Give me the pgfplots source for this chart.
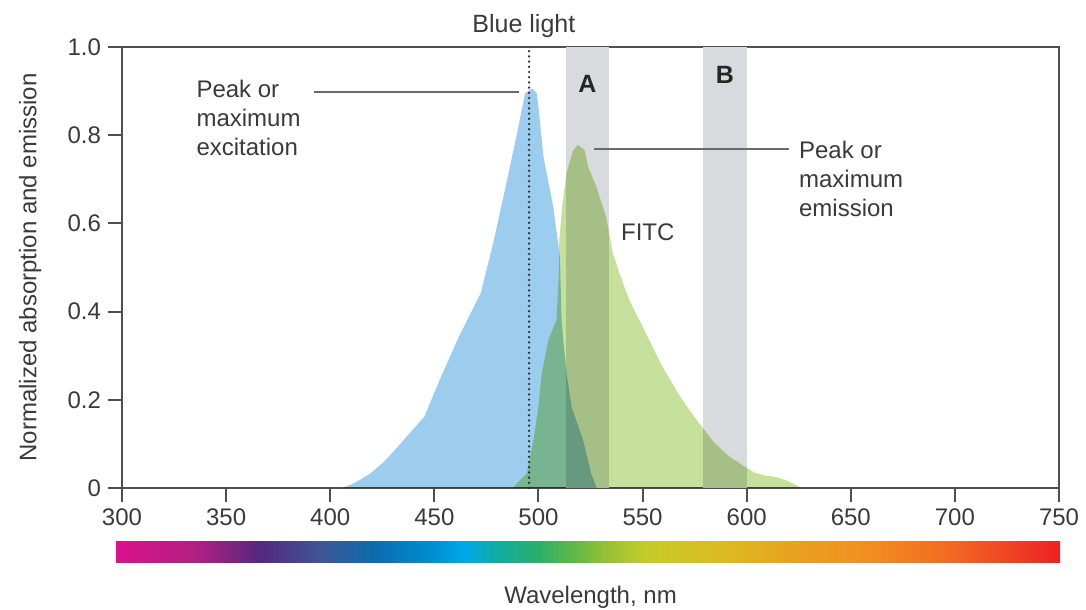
\documentclass[border=0pt]{standalone}
\usepackage{fontspec}
\setmainfont{Liberation Sans}
\usepackage{pgfplots}
\pgfplotsset{compat=1.18}

\definecolor{txt}{HTML}{3A3A3A}
\definecolor{axgray}{HTML}{505050}
\definecolor{exblue}{HTML}{9DCDEE}
\definecolor{emgreen}{HTML}{C4E09B}
\definecolor{band}{HTML}{D9DADD}
\definecolor{lead}{HTML}{6A6A6A}
\definecolor{dotc}{HTML}{303030}

% visible spectrum, 297..750 nm mapped onto 25..75bp
\pgfdeclarehorizontalshading{spectrum}{100bp}{%
  rgb(0bp)=(0.839,0.075,0.541);
  rgb(25.3bp)=(0.839,0.075,0.541);
  rgb(29.2bp)=(0.702,0.122,0.510);
  rgb(32.6bp)=(0.333,0.157,0.490);
  rgb(35.8bp)=(0.247,0.333,0.588);
  rgb(38.6bp)=(0.051,0.420,0.682);
  rgb(41.3bp)=(0,0.537,0.800);
  rgb(43.5bp)=(0,0.659,0.902);
  rgb(45.3bp)=(0.071,0.675,0.616);
  rgb(47.4bp)=(0.169,0.690,0.416);
  rgb(49.2bp)=(0.369,0.722,0.275);
  rgb(50.6bp)=(0.549,0.749,0.227);
  rgb(53.1bp)=(0.776,0.800,0.165);
  rgb(57.6bp)=(0.867,0.722,0.133);
  rgb(61.2bp)=(0.910,0.627,0.125);
  rgb(64.6bp)=(0.949,0.565,0.129);
  rgb(69.0bp)=(0.949,0.420,0.133);
  rgb(72.2bp)=(0.937,0.271,0.141);
  rgb(75bp)=(0.933,0.125,0.141);
  rgb(100bp)=(0.933,0.125,0.141)}

\newcommand{\lbl}{\fontsize{12}{14.5}\selectfont}

\begin{document}
\begin{tikzpicture}
\begin{axis}[
    scale only axis,
    width=468.5pt,
    height=220.5pt,
    xmin=300, xmax=750,
    ymin=0, ymax=1,
    xtick={300,350,...,750},
    ytick={0,0.2,0.4,0.6,0.8,1},
    yticklabels={0,0.2,0.4,0.6,0.8,1.0},
    tick align=outside,
    tick pos=left,
    major tick length=7pt,
    axis line style={draw=axgray, line width=1pt},
    tick style={draw=axgray, line width=1pt},
    tick label style={font=\lbl, text=txt},
    /pgf/number format/assume math mode=true,
    clip=false,
    xlabel={Wavelength, nm},
    ylabel={Normalized absorption and emission},
    xlabel style={at={(axis description cs:0.5,-0.261)}, anchor=base, font=\lbl, text=txt},
    ylabel style={at={(axis description cs:-0.098,0.5)}, anchor=center, font=\lbl, text=txt},
]

% filter bands A and B
\addplot[draw=none, fill=band] coordinates {(513,1) (534,1)} \closedcycle;
\addplot[draw=none, fill=band] coordinates {(579,1) (600,1)} \closedcycle;

% excitation (absorption)
\addplot[draw=none, fill=exblue, blend mode=multiply] coordinates {
  (406,0) (412,0.012) (419,0.032) (426,0.06) (432.5,0.094) (445.2,0.162)
  (453,0.25) (461.1,0.336) (472.2,0.441) (478.6,0.562) (484.9,0.698)
  (489.7,0.804) (493.6,0.895) (496.8,0.906) (499.2,0.895) (500,0.865)
  (502.4,0.751) (507.1,0.638) (510.3,0.524) (511.1,0.381) (511.9,0.336)
  (513.5,0.26) (515.9,0.184) (521.4,0.109) (525.3,0.033) (527.4,0.007) (528,0)
} \closedcycle;

% emission
\addplot[draw=none, fill=emgreen, blend mode=multiply] coordinates {
  (488,0) (488.9,0.007) (494.4,0.033) (497.6,0.109) (500,0.184) (501.6,0.26)
  (504.8,0.336) (508.7,0.381) (509.8,0.487) (510,0.562) (511.4,0.638)
  (513.5,0.714) (516.7,0.766) (519,0.778) (522.2,0.766) (523.8,0.729)
  (527.8,0.683) (532.5,0.615) (535.7,0.532) (538.9,0.487) (543.6,0.426)
  (551.6,0.351) (559.5,0.275) (569,0.20) (575.4,0.158) (584.5,0.102)
  (592,0.07) (599.2,0.048) (604,0.034) (609,0.028) (613.8,0.025)
  (618.7,0.018) (623.6,0.007) (626,0)
} \closedcycle;

% blue light line
\addplot[draw=dotc, line width=1.3pt, line cap=round, dash pattern=on 0pt off 2.6pt]
  coordinates {(495.5,0) (495.5,1)};

% leader lines
\addplot[lead, line width=1pt] coordinates {(392,0.898) (490.6,0.898)};
\addplot[lead, line width=1pt] coordinates {(526.8,0.769) (620.1,0.769)};

% annotations
\node[anchor=base, font=\fontsize{12.5}{14}\selectfont, text=txt, inner sep=0pt]
  at (axis cs:493,1.032) {Blue light};
\node[anchor=north west, align=left, font=\lbl, text=txt, inner sep=0pt]
  at (axis cs:335.6,0.925) {Peak or\\maximum\\excitation};
\node[anchor=north west, align=left, font=\lbl, text=txt, inner sep=0pt]
  at (axis cs:625,0.7875) {Peak or\\maximum\\emission};
\node[anchor=base west, font=\lbl, text=txt, inner sep=0pt]
  at (axis cs:539.5,0.562) {FITC};
\node[anchor=base, font=\fontsize{12.5}{14}\selectfont\bfseries, text=black!85, inner sep=0pt]
  at (axis cs:523.5,0.896) {A};
\node[anchor=base, font=\fontsize{12.5}{14}\selectfont\bfseries, text=black!85, inner sep=0pt]
  at (axis cs:589.5,0.918) {B};

% spectrum bar
\shade[shading=spectrum] (axis cs:297,-0.1224) rectangle (axis cs:750.5,-0.170);

\coordinate (bbsw) at (rel axis cs:-0.1302,-0.2766);
\coordinate (bbne) at (rel axis cs:1.0288,1.1066);
\end{axis}
\pgfresetboundingbox
\useasboundingbox (bbsw) rectangle (bbne);
\end{tikzpicture}
\end{document}
